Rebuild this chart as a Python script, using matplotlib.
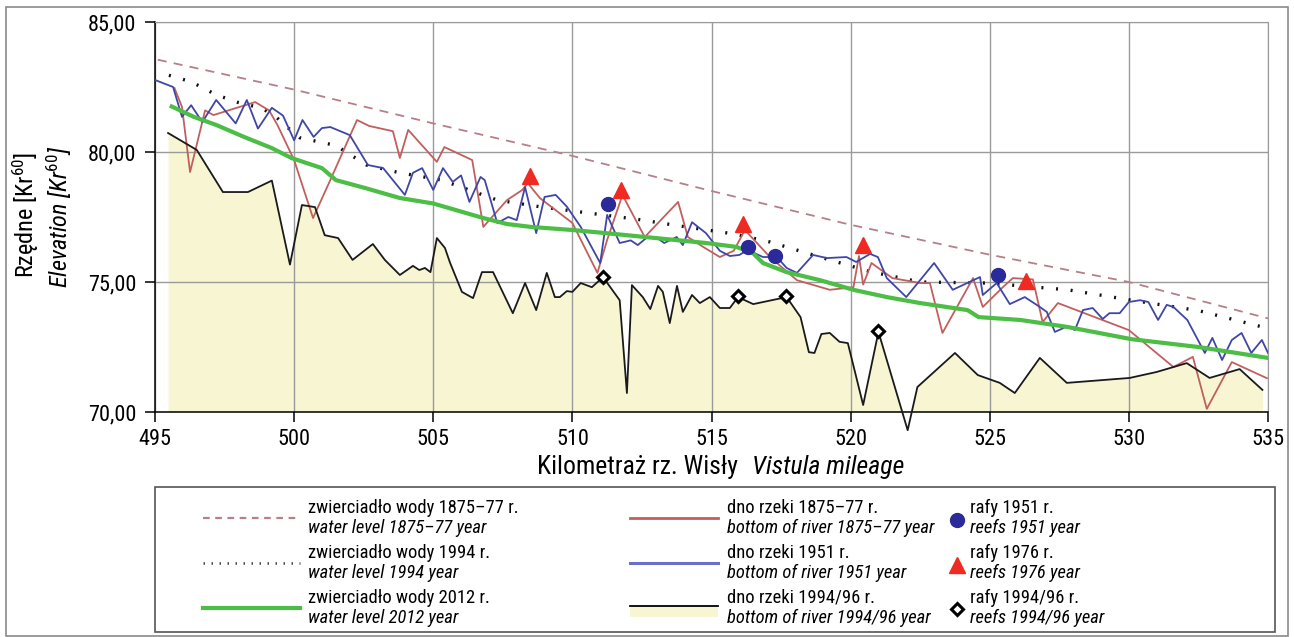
import numpy as np
import matplotlib
matplotlib.use("Agg")
import matplotlib.pyplot as plt
from matplotlib.lines import Line2D
from matplotlib.patches import Rectangle

plt.rcParams['font.family'] = ['Roboto Condensed', 'DejaVu Sans']
plt.rcParams['mathtext.fontset'] = 'custom'
plt.rcParams['mathtext.rm'] = 'Roboto Condensed'
plt.rcParams['mathtext.it'] = 'Roboto Condensed:italic'

# water levels
wl1875_km = [495.1, 500, 505, 510, 515, 520, 525, 530, 535]
wl1875 = [83.55, 82.4, 81.1, 79.85, 78.5, 77.2, 76.05, 75.0, 73.6]

wl1994_km = [495.5, 496.3, 497.2, 498.0, 498.8, 499.3, 499.7, 500.2, 501.5, 502.6, 503.8,
             505.3, 507.3, 508.8, 510.6, 512.4, 514.2, 515.8, 517.1, 518.9, 520.7, 522.5,
             524.9, 527.8, 530.1, 532.5, 534.8]
wl1994 = [82.95, 82.7, 82.2, 81.9, 81.7, 81.4, 81.0, 80.55, 80.25, 79.5, 79.2,
          78.92, 78.15, 77.9, 77.65, 77.4, 77.1, 76.85, 76.54, 75.96, 75.4, 75.0,
          74.96, 74.7, 74.3, 73.9, 73.27]

wl2012_km = [495.6, 496.4, 497.2, 498.2, 499.2, 499.9, 501.0, 501.5, 502.6, 503.8, 505.0,
             506.8, 507.65, 508.5, 510.0, 511.2, 513.0, 514.8, 515.9, 516.5, 516.85, 517.7,
             518.9, 520.1, 521.3, 522.5, 524.2, 524.6, 526.1, 527.8, 530.1, 532.5, 535.0]
wl2012 = [81.75, 81.35, 81.04, 80.58, 80.15, 79.77, 79.38, 78.92, 78.6, 78.23, 78.02,
          77.46, 77.23, 77.12, 77.0, 76.88, 76.69, 76.5, 76.35, 76.1, 75.73, 75.38,
          75.07, 74.7, 74.42, 74.19, 73.92, 73.65, 73.54, 73.27, 72.8, 72.5, 72.08]

# river bottoms
bt1875_km = [495.7, 495.97, 496.26, 496.8, 497.1, 498.6, 499.1, 499.4, 500.0, 500.68,
             501.3, 502.26, 502.7, 503.55, 503.8, 504.1, 505.13, 505.4, 506.4, 506.8,
             507.65, 508.2, 508.4, 508.83, 510.0, 510.9, 511.25, 511.8, 512.6, 513.8,
             514.15, 514.7, 515.3, 515.8, 516.2, 517.1, 518.07, 519.25, 520.1, 520.3,
             520.45, 520.75, 521.5, 522.5, 522.85, 523.3, 524.4, 524.75, 525.47, 525.83,
             526.55, 526.9, 527.45, 530.0, 531.6, 532.3, 532.8, 533.7, 534.96]
bt1875 = [82.46, 81.73, 79.23, 81.6, 81.42, 81.92, 81.6, 81.04, 79.69, 77.46,
          78.92, 81.23, 81.0, 80.8, 79.77, 80.85, 79.62, 80.19, 79.69, 77.12,
          78.15, 78.54, 78.8, 78.23, 77.27, 75.35, 76.62, 78.35, 76.73, 78.08,
          76.73, 76.35, 75.96, 76.2, 77.0, 75.96, 75.07, 74.7, 74.8, 76.0,
          74.9, 75.73, 75.15, 74.96, 74.96, 73.04, 75.15, 74.04, 74.8, 75.15,
          75.1, 73.46, 74.19, 73.15, 71.73, 72.12, 70.12, 71.92, 71.3]

bt1951_km = [495.0, 495.65, 495.97, 496.3, 496.7, 497.2, 497.9, 498.3, 498.7, 499.2, 499.6,
             500.0, 500.3, 500.7, 501.0, 501.3, 502.0, 502.65, 503.2, 503.98, 504.27, 504.6,
             505.0, 505.35, 505.7, 506.0, 506.3, 506.7, 506.85, 507.3, 507.7, 508.0, 508.3,
             508.7, 509.0, 509.4, 509.8, 510.3, 511.0, 511.25, 511.7, 512.1, 512.35, 512.7,
             513.0, 513.3, 513.75, 513.97, 514.3, 514.8, 515.3, 515.66, 516.0, 516.3, 516.85,
             517.35, 517.7, 518.07, 518.65, 519.15, 519.85, 520.2, 520.7, 520.98, 521.3,
             522.0, 523.0, 523.67, 524.65, 524.75, 525.25, 525.72, 526.26, 526.8, 527.05,
             527.34, 527.8, 528.06, 528.35, 528.7, 529.06, 529.3, 529.67, 530.0, 530.4,
             530.7, 531.05, 531.36, 531.6, 532.1, 532.73, 533.0, 533.35, 533.7, 534.05,
             534.4, 534.78, 535.0]
bt1951 = [82.77, 82.5, 81.35, 81.8, 81.15, 82.0, 81.1, 82.0, 80.9, 81.7, 81.4,
          80.45, 81.23, 80.58, 80.92, 80.96, 80.65, 79.5, 79.38, 78.35, 79.2, 79.38,
          78.54, 79.38, 78.85, 79.1, 78.08, 79.04, 78.92, 77.27, 77.5, 77.38, 78.65,
          76.88, 78.27, 78.35, 77.9, 77.12, 75.73, 77.58, 76.5, 76.6, 76.42, 76.73,
          76.73, 76.5, 76.73, 76.42, 77.3, 76.88, 76.2, 76.0, 76.04, 76.23, 75.96,
          75.96, 75.54, 75.35, 76.04, 75.92, 75.96, 75.77, 76.08, 75.96, 75.15,
          74.42, 75.73, 74.7, 75.19, 74.5, 74.96, 74.15, 74.42, 74.04, 73.85,
          73.08, 73.3, 73.15, 73.92, 74.0, 73.58, 73.8, 73.8, 74.23, 74.3,
          74.23, 73.54, 74.12, 74.04, 73.54, 72.27, 72.85, 72.0, 72.77, 73.04,
          72.27, 72.77, 72.27]

bt1994_km = [495.47, 496.5, 497.44, 498.34, 499.2, 499.85, 500.28, 500.75, 501.1, 501.58,
             502.1, 502.83, 503.26, 503.8, 504.27, 504.5, 504.7, 504.9, 505.13, 505.42,
             505.6, 506.03, 506.43, 506.75, 507.15, 507.86, 508.3, 508.7, 509.08, 509.37,
             509.55, 509.8, 510.0, 510.3, 510.7, 511.1, 511.7, 511.96, 512.14, 512.53,
             512.8, 513.08, 513.25, 513.5, 513.76, 513.97, 514.3, 514.58, 514.94, 515.3,
             515.66, 515.95, 516.5, 517.7, 518.2, 518.5, 518.7, 518.95, 519.25, 519.6,
             519.9, 520.45, 521.0, 522.05, 522.4, 523.75, 524.57, 525.36, 525.9, 526.8,
             527.77, 530.03, 531.0, 532.08, 532.9, 533.98, 534.8]
bt1994 = [80.73, 80.08, 78.46, 78.46, 78.9, 75.67, 77.96, 77.88, 76.8, 76.69,
          75.85, 76.46, 75.85, 75.27, 75.62, 75.46, 75.54, 75.38, 76.69, 76.31,
          75.75, 74.62, 74.38, 75.38, 75.38, 73.8, 74.96, 73.92, 75.35, 74.42,
          74.42, 74.65, 74.62, 74.96, 74.8, 75.19, 74.3, 70.73, 74.88, 74.42,
          73.96, 74.85, 74.62, 73.42, 74.85, 73.85, 74.5, 74.19, 74.42, 74.0,
          74.0, 74.42, 74.15, 74.42, 73.65, 72.3, 72.27, 73.0, 73.04, 72.7,
          72.65, 70.27, 73.08, 69.3, 70.96, 72.27, 71.42, 71.12, 70.73, 72.08,
          71.12, 71.31, 71.54, 71.88, 71.31, 71.65, 70.85]

# reefs
reef1951_km = [511.28, 516.3, 517.3, 525.3]
reef1951 = [78.0, 76.35, 76.0, 75.27]
reef1976_km = [508.47, 511.75, 516.13, 520.44, 526.3]
reef1976 = [79.08, 78.54, 77.25, 76.42, 75.05]
reef1994_km = [511.1, 515.95, 517.67, 521.0]
reef1994 = [75.2, 74.46, 74.46, 73.12]

xticks = [495, 500, 505, 510, 515, 520, 525, 530, 535]
yticks = [70, 75, 80, 85]

W, H = 1294, 637
fig = plt.figure(figsize=(W / 100, H / 100), dpi=100)


def fx(px):
    return px / W


def fy(py):
    return 1 - py / H


ax = fig.add_axes([fx(155), fy(412), fx(1268) - fx(155), fy(22) - fy(412)])

c_wl1875 = '#b58088'
c_bt1875 = '#c0605e'
c_bt1951 = '#3f46a6'
c_green = '#4cbd45'
c_fill = '#f8f6d2'

ax.fill_between(bt1994_km, bt1994, 70, color=c_fill, lw=0, zorder=0.3)
ax.plot(wl1875_km, wl1875, color=c_wl1875, lw=1.3, dashes=(5, 4), zorder=3)
ax.plot(wl1994_km, wl1994, color='#111111', lw=2.4, dashes=(0.6, 3.8), zorder=3)
ax.plot(bt1875_km, bt1875, color=c_bt1875, lw=1.3, zorder=4)
ax.plot(bt1951_km, bt1951, color=c_bt1951, lw=1.3, zorder=4)
ax.plot(wl2012_km, wl2012, color=c_green, lw=3, zorder=5)
ax.plot(bt1994_km, bt1994, color='#1a1a1a', lw=1.3, zorder=4, clip_on=False)
ax.plot(reef1951_km, reef1951, 'o', color='#2a2a9a', ms=10, zorder=6)
ax.plot(reef1976_km, reef1976, '^', color='#ee2a22', ms=11.5, zorder=6)
ax.plot(reef1994_km, reef1994, 'D', mfc='white', mec='black', mew=2.2, ms=6.5, zorder=7)

ax.set_xlim(495, 535)
ax.set_ylim(70, 85)
ax.set_xticks(xticks)
ax.set_yticks(yticks)
ax.set_yticklabels([('%.2f' % v).replace('.', ',') for v in yticks])
ax.grid(True, color='#9a9a9a', lw=1)
ax.set_axisbelow(True)
for s in ['top', 'right']:
    ax.spines[s].set_color('#9a9a9a')
for s in ['left', 'bottom']:
    ax.spines[s].set_color('black')
    ax.spines[s].set_linewidth(1.1)
ax.tick_params(direction='out', length=7.5, width=1.1, labelsize=16, pad=6)
ax.tick_params(axis='x', pad=5)

# axis titles
fig.text(fx(537), fy(467), 'Kilometraż rz. Wisły', fontsize=18.5, ha='left', va='center')
fig.text(fx(752), fy(467), 'Vistula mileage', fontsize=18.5, ha='left', va='center',
         style='italic')
fig.text(fx(26), fy(215), 'Rzędne [Kr$^{60}$]', fontsize=17.5, rotation=90,
         ha='center', va='center')
fig.text(fx(59), fy(217), r'Elevation [Kr$^{\mathit{60}}$]', fontsize=17.5, rotation=90,
         ha='center', va='center', style='italic')

# outer frame and legend box
fig.add_artist(Rectangle((fx(6), fy(636)), fx(1288) - fx(6), fy(7) - fy(636),
                         transform=fig.transFigure, fill=False, ec='#8a8a8a', lw=1.2))
fig.add_artist(Rectangle((fx(155), fy(632)), fx(1275) - fx(155), fy(487) - fy(632),
                         transform=fig.transFigure, fill=False, ec='#555555', lw=1.2))

leg_rows = [518, 563, 608]
fs_leg = 13.3


def leg_line(x0, x1, y, **kw):
    fig.add_artist(Line2D([fx(x0), fx(x1)], [fy(y), fy(y)], transform=fig.transFigure, **kw))


def leg_text(x, y, pl, en):
    fig.text(fx(x), fy(y - 10), pl, fontsize=fs_leg, ha='left', va='center')
    fig.text(fx(x), fy(y + 10), en, fontsize=fs_leg, ha='left', va='center', style='italic')


leg_line(203, 300, leg_rows[0], color=c_wl1875, lw=1.6, dashes=(3, 2.5))
leg_line(203, 300, leg_rows[1], color='#444444', lw=1.8, dashes=(0.6, 2.6))
leg_line(203, 300, leg_rows[2], color=c_green, lw=3)
leg_text(308, leg_rows[0], 'zwierciadło wody 1875–77 r.', 'water level 1875–77 year')
leg_text(308, leg_rows[1], 'zwierciadło wody 1994 r.', 'water level 1994 year')
leg_text(308, leg_rows[2], 'zwierciadło wody 2012 r.', 'water level 2012 year')

leg_line(630, 718, leg_rows[0], color=c_bt1875, lw=2)
leg_line(630, 718, leg_rows[1], color='#6a70c8', lw=2.2)
fig.add_artist(Rectangle((fx(630), fy(617)), fx(718) - fx(630), fy(607) - fy(617),
                         transform=fig.transFigure, color=c_fill, lw=0))
leg_line(630, 718, 606, color='black', lw=1.3)
leg_text(727, leg_rows[0], 'dno rzeki 1875–77 r.', 'bottom of river 1875–77 year')
leg_text(727, leg_rows[1], 'dno rzeki 1951 r.', 'bottom of river 1951 year')
leg_text(727, leg_rows[2], 'dno rzeki 1994/96 r.', 'bottom of river 1994/96 year')

fig.add_artist(Line2D([fx(957)], [fy(520)], transform=fig.transFigure, marker='o',
                      color='#2a2a9a', ms=10, ls='none'))
fig.add_artist(Line2D([fx(957)], [fy(565)], transform=fig.transFigure, marker='^',
                      color='#ee2a22', ms=11.5, ls='none'))
fig.add_artist(Line2D([fx(957)], [fy(609)], transform=fig.transFigure, marker='D',
                      mfc='white', mec='black', mew=2.2, ms=6.5, ls='none'))
leg_text(970, leg_rows[0], 'rafy 1951 r.', 'reefs 1951 year')
leg_text(970, leg_rows[1], 'rafy 1976 r.', 'reefs 1976 year')
leg_text(970, leg_rows[2], 'rafy 1994/96 r.', 'reefs 1994/96 year')

fig.savefig('out.png', dpi=100)
